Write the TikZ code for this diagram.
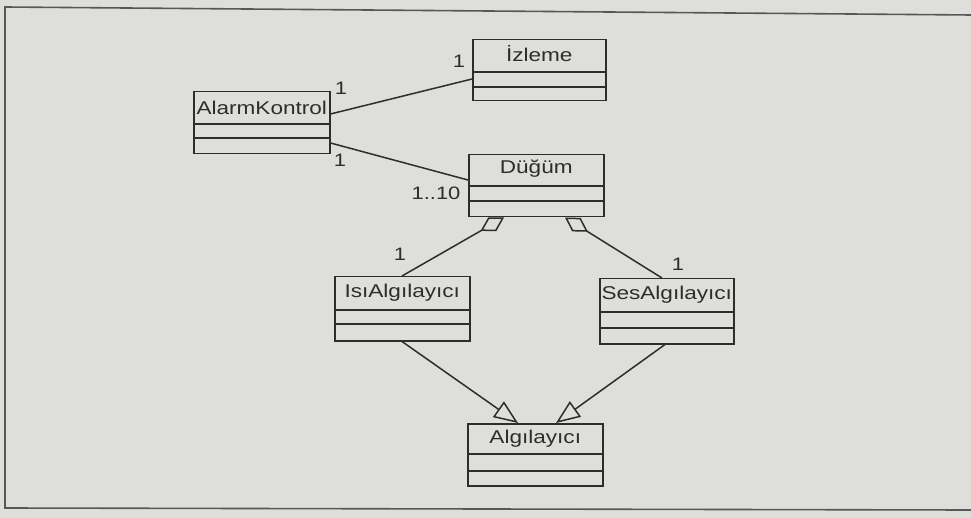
\documentclass[tikz,border=0pt]{standalone}
\usepackage{fontspec}
\setmainfont[FakeStretch=1.22]{Liberation Sans}
\usetikzlibrary{calc,arrows.meta}
\definecolor{bg}{RGB}{222,222,219}
\definecolor{ink}{RGB}{45,45,45}
\tikzset{
  cls/.style={draw=ink, line width=1.5pt, inner sep=0pt, anchor=north west, fill=bg},
  ttl/.style={inner sep=0pt, text=ink, font=\fontsize{18.5}{18.5}\selectfont},
  mult/.style={inner sep=0pt, text=ink, font=\fontsize{18}{18}\selectfont},
  conn/.style={draw=ink, line width=1.5pt},
  agg/.style={conn, {Diamond[open, length=27pt, width=16pt, line width=1.5pt]}-},
  gen/.style={conn, -{Triangle[open, length=24pt, width=19pt, line width=1.5pt]}},
  frame/.style={draw=ink!80, line width=1.6pt}
}
\begin{document}
\begin{tikzpicture}[x=1pt,y=-1pt]
\fill[bg] (0,0) rectangle (971,518);
\useasboundingbox (0,0) rectangle (971,518);
% frame
\coordinate (f1) at (971,15);
\coordinate (f2) at (5,7);
\coordinate (f3) at (5,508);
\coordinate (f4) at (971,510);
\draw[frame] (f1) -- (f2) -- (f3) -- (f4);

% classes
\node[cls, minimum width=136pt, minimum height=62pt] (ak) at (193,91) {};
\node[cls, minimum width=133pt, minimum height=61pt] (iz) at (472,39) {};
\node[cls, minimum width=135pt, minimum height=62pt] (dg) at (468,154) {};
\node[cls, minimum width=135pt, minimum height=64pt] (isi) at (334,276) {};
\node[cls, minimum width=134pt, minimum height=65pt] (ses) at (599,278) {};
\node[cls, minimum width=135pt, minimum height=62pt] (alg) at (467,423) {};

% compartment lines
\draw[conn] ($(ak.north west)+(0,33)$) -- ($(ak.north east)+(0,33)$);
\draw[conn] ($(ak.north west)+(0,47)$) -- ($(ak.north east)+(0,47)$);
\draw[conn] ($(iz.north west)+(0,33)$) -- ($(iz.north east)+(0,33)$);
\draw[conn] ($(iz.north west)+(0,48)$) -- ($(iz.north east)+(0,48)$);
\draw[conn] ($(dg.north west)+(0,32)$) -- ($(dg.north east)+(0,32)$);
\draw[conn] ($(dg.north west)+(0,47)$) -- ($(dg.north east)+(0,47)$);
\draw[conn] ($(isi.north west)+(0,34)$) -- ($(isi.north east)+(0,34)$);
\draw[conn] ($(isi.north west)+(0,48)$) -- ($(isi.north east)+(0,48)$);
\draw[conn] ($(ses.north west)+(0,34)$) -- ($(ses.north east)+(0,34)$);
\draw[conn] ($(ses.north west)+(0,50)$) -- ($(ses.north east)+(0,50)$);
\draw[conn] ($(alg.north west)+(0,31)$) -- ($(alg.north east)+(0,31)$);
\draw[conn] ($(alg.north west)+(0,48)$) -- ($(alg.north east)+(0,48)$);

% titles
\node[ttl] (akt) at ($(ak.north)+(0,17)$) {AlarmKontrol};
\node[ttl] (izt) at ($(iz.north)+(0,15)$) {İzleme};
\node[ttl] (dgt) at ($(dg.north)+(0,15)$) {Düğüm};
\node[ttl] (isit) at ($(isi.north)+(0,17)$) {IsıAlgılayıcı};
\node[ttl] (sest) at ($(ses.north)+(0,17)$) {SesAlgılayıcı};
\node[ttl] (algt) at ($(alg.north)+(0,16)$) {Algılayıcı};

% associations
\draw[conn] ($(ak.north east)+(0,23)$) -- ($(iz.north west)+(0,40)$);
\draw[conn] ($(ak.north east)+(0,52)$) -- ($(dg.north west)+(0,26)$);
% aggregations
\draw[agg] ($(dg.south west)+(36,0)$) -- ($(isi.north west)+(68,0)$);
\draw[agg] ($(dg.south west)+(97,0)$) -- ($(ses.north west)+(63,0)$);
% generalizations
\draw[gen] ($(isi.south west)+(68,0)$) -- ($(alg.north west)+(51,0)$);
\draw[gen] ($(ses.south west)+(66,0)$) -- ($(alg.north west)+(89,0)$);

% multiplicities
\node[mult] (m1) at (341,88) {1};
\node[mult] (m2) at (459,61) {1};
\node[mult] (m3) at (340,160) {1};
\node[mult] (m4) at (436,193) {1..10};
\node[mult] (m5) at (400,254) {1};
\node[mult] (m6) at (678,264) {1};
\end{tikzpicture}
\end{document}
